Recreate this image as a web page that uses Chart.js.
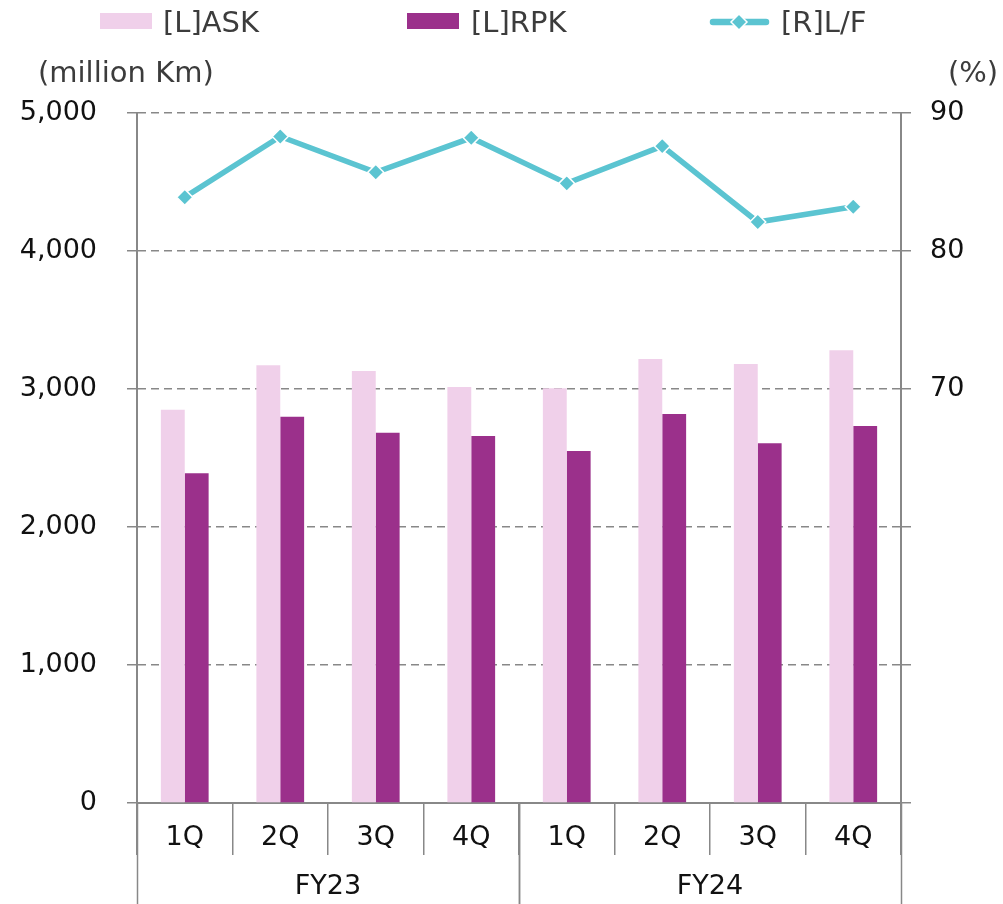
<!DOCTYPE html>
<html>
<head>
<meta charset="utf-8">
<script src="https://cdn.jsdelivr.net/npm/chart.js@4.4.1/dist/chart.umd.min.js"></script>
<style>
  body { margin: 0; background: #fff; }
  #wrap { position: relative; width: 1003px; height: 904px; font-family: "DejaVu Sans", Verdana, sans-serif; }
  #wrap canvas { position: absolute; left: 0; top: 0; }
  .lbl { position: absolute; font-size: 29px; color: #3c3c3c; white-space: nowrap; line-height: 32px; }
  .box { position: absolute; width: 52px; height: 16px; top: 13px; }
</style>
</head>
<body>
<div id="wrap">
  <canvas id="chart" width="1003" height="904"></canvas>
  <div class="box" style="left:100px;background:#F0D0EA"></div>
  <div class="lbl" style="left:163px;top:6px">[L]ASK</div>
  <div class="box" style="left:407px;background:#9B308B"></div>
  <div class="lbl" style="left:471px;top:6px">[L]RPK</div>
  <svg style="position:absolute;left:708px;top:12px" width="64" height="22">
    <line x1="5" y1="10" x2="58" y2="10" stroke="#5BC4D1" stroke-width="6.5" stroke-linecap="round"/>
    <polygon points="31,2 39,10 31,18 23,10" fill="#5BC4D1" stroke="#fff" stroke-width="1.5"/>
  </svg>
  <div class="lbl" style="left:781px;top:6px">[R]L/F</div>
  <div class="lbl" style="left:38px;top:56px">(million Km)</div>
  <div class="lbl" style="left:948px;top:56px">(%)</div>
</div>
<script>
// categories
const groups = ['FY23', 'FY24'];
const quarters = ['1Q', '2Q', '3Q', '4Q'];

// series values (million Km / %)
const askValues = [2850, 3172, 3130, 3014, 3006, 3217, 3181, 3281];
const rpkValues = [2390, 2799, 2683, 2659, 2551, 2818, 2607, 2731];
const lfValues = [83.9, 88.3, 85.7, 88.2, 84.9, 87.6, 82.1, 83.2];

// tick settings
const leftTicks = [0, 1000, 2000, 3000, 4000, 5000];
const rightTicks = [40, 50, 60, 70, 80, 90];
const rightShown = [70, 80, 90];

const labels = [];
groups.forEach(function() { quarters.forEach(function(q) { labels.push(q); }); });

const gridGrey = '#888888';
const fontSpec = { family: '"DejaVu Sans", Verdana, sans-serif', size: 27 };

// draws FY group labels and their separators under the quarter labels
const groupAxisPlugin = {
  id: 'groupAxis',
  afterDraw: function(chart) {
    const ctx = chart.ctx;
    const x = chart.scales.x;
    const top = chart.chartArea.bottom;
    const bottom = chart.height;
    const n = quarters.length;
    ctx.save();
    ctx.strokeStyle = gridGrey;
    ctx.lineWidth = 1.5;
    ctx.fillStyle = '#111';
    ctx.font = '27px "DejaVu Sans", Verdana, sans-serif';
    ctx.textAlign = 'center';
    ctx.textBaseline = 'middle';
    groups.forEach(function(g, gi) {
      const first = x.getPixelForValue(gi * n);
      const last = x.getPixelForValue(gi * n + n - 1);
      const half = (x.getPixelForValue(1) - x.getPixelForValue(0)) / 2;
      const left = first - half;
      const right = last + half;
      [left, right].forEach(function(px) {
        ctx.beginPath();
        ctx.moveTo(Math.round(px) + 0.5, top);
        ctx.lineTo(Math.round(px) + 0.5, bottom);
        ctx.stroke();
      });
      ctx.fillText(g, (first + last) / 2, 887);
    });
    ctx.restore();
  }
};

new Chart(document.getElementById('chart'), {
  data: {
    labels: labels,
    datasets: [
      {
        type: 'line',
        label: '[R]L/F',
        data: lfValues,
        yAxisID: 'y1',
        order: 0,
        borderColor: '#5BC4D1',
        backgroundColor: '#5BC4D1',
        borderWidth: 5.5,
        pointStyle: 'rectRot',
        pointRadius: 8,
        pointBackgroundColor: '#5BC4D1',
        pointBorderColor: '#ffffff',
        pointBorderWidth: 1.5,
        tension: 0
      },
      {
        type: 'bar',
        label: '[L]ASK',
        data: askValues,
        yAxisID: 'y',
        order: 1,
        backgroundColor: '#F0D0EA',
        categoryPercentage: 0.5,
        barPercentage: 1.0
      },
      {
        type: 'bar',
        label: '[L]RPK',
        data: rpkValues,
        yAxisID: 'y',
        order: 1,
        backgroundColor: '#9B308B',
        categoryPercentage: 0.5,
        barPercentage: 1.0
      }
    ]
  },
  options: {
    responsive: false,
    animation: false,
    layout: { padding: { top: 113, left: 0, right: 0, bottom: 0 } },
    plugins: {
      legend: { display: false },
      tooltip: { enabled: false }
    },
    scales: {
      x: {
        type: 'category',
        afterFit: function(scale) { scale.height = 101; },
        grid: {
          offset: true,
          drawOnChartArea: false,
          drawTicks: true,
          tickLength: 52,
          color: gridGrey,
          lineWidth: 1.5
        },
        border: { display: true, color: gridGrey, width: 2 },
        ticks: {
          autoSkip: false,
          maxRotation: 0,
          padding: -33,
          color: '#111',
          font: fontSpec
        }
      },
      y: {
        position: 'left',
        min: leftTicks[0],
        max: leftTicks[leftTicks.length - 1],
        afterFit: function(scale) { scale.width = 137; },
        afterBuildTicks: function(scale) { scale.ticks = leftTicks.map(function(v) { return { value: v }; }); },
        grid: {
          color: gridGrey,
          lineWidth: 1.5,
          tickLength: 10,
          tickBorderDash: []
        },
        border: { display: true, color: gridGrey, width: 2, dash: [8, 5] },
        ticks: {
          padding: 30,
          color: '#111',
          font: fontSpec,
          callback: function(v) { return Number(v).toLocaleString('en-US'); }
        }
      },
      y1: {
        position: 'right',
        min: rightTicks[0],
        max: rightTicks[rightTicks.length - 1],
        afterFit: function(scale) { scale.width = 102; },
        afterBuildTicks: function(scale) { scale.ticks = rightTicks.map(function(v) { return { value: v }; }); },
        grid: {
          drawOnChartArea: false,
          color: gridGrey,
          lineWidth: 1.5,
          tickLength: 10,
          tickBorderDash: []
        },
        border: { display: true, color: gridGrey, width: 2 },
        ticks: {
          padding: 19,
          color: '#111',
          font: fontSpec,
          callback: function(v) { return rightShown.indexOf(v) >= 0 ? String(v) : ''; }
        }
      }
    }
  },
  plugins: [groupAxisPlugin]
});
</script>
</body>
</html>
